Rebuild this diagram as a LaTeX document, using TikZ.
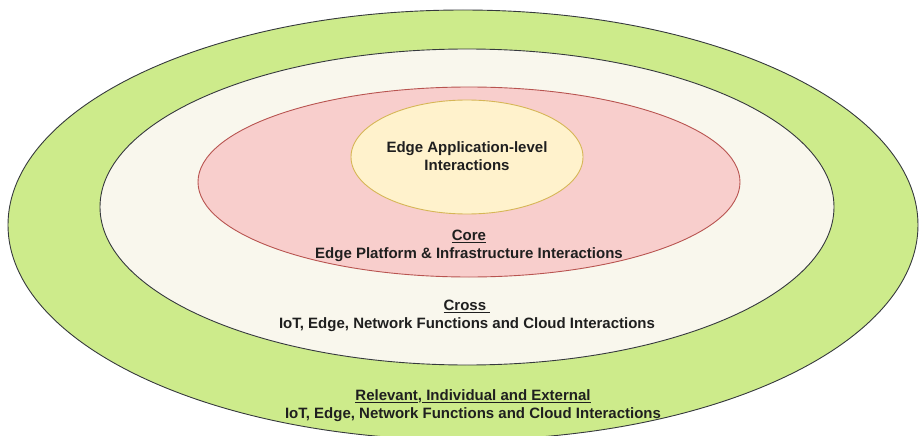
\documentclass[tikz,border=0pt]{standalone}
\usepackage{fontspec}
\setmainfont{Liberation Sans}
\usetikzlibrary{shapes.geometric}
\definecolor{gfill}{HTML}{CDEB8B}
\definecolor{cfill}{HTML}{F9F7ED}
\definecolor{rfill}{HTML}{F8CECC}
\definecolor{rdraw}{HTML}{B85450}
\definecolor{yfill}{HTML}{FFF2CC}
\definecolor{ydraw}{HTML}{D6B656}
\definecolor{gdraw}{HTML}{36393D}
\tikzset{
  ring/.style={ellipse, inner sep=0pt, line width=0.9pt},
  lbl/.style={align=center, font=\fontsize{15}{18}\selectfont\bfseries, text=black!88, inner sep=0pt}
}
\begin{document}
\begin{tikzpicture}[x=1pt,y=-1pt]
\useasboundingbox (0,0) rectangle (924,436);
\node[ring, draw=gdraw, fill=gfill, minimum width=910pt, minimum height=430pt] (outer) at (463,225) {};
\node[ring, draw=gdraw, fill=cfill, minimum width=734pt, minimum height=316pt] (cross) at (467,207) {};
\node[ring, draw=rdraw, fill=rfill, minimum width=542pt, minimum height=190pt] (core) at (469,182) {};
\node[ring, draw=ydraw, fill=yfill, minimum width=232pt, minimum height=114pt] (app) at (467,157) {};
\node[lbl] (tapp) at (467,156) {Edge Application-level\\Interactions};
\node[lbl] (tcore) at (469,246) {\underline{Core}\\Edge Platform \& Infrastructure Interactions};
\node[lbl] (tcross) at (467,316) {\underline{Cross\ }\\IoT, Edge, Network Functions and Cloud Interactions};
\node[lbl] (touter) at (473,406) {\underline{Relevant},\underline{\ Individual and External}\\IoT, Edge, Network Functions and Cloud Interactions};
\end{tikzpicture}
\end{document}
